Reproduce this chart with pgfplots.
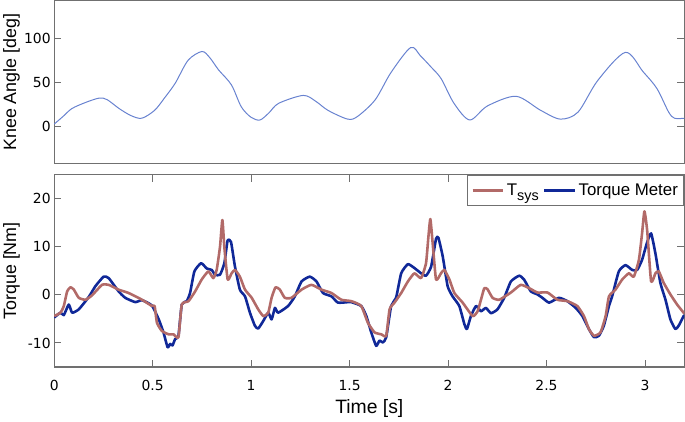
\documentclass[border=0pt]{standalone}
\usepackage{pgfplots}
\pgfplotsset{compat=1.18}
\usepackage{fontspec}
\setmainfont{Liberation Sans}
\newfontfamily\tickfont{DejaVu Sans}
\definecolor{axgray}{RGB}{112,112,112}
\definecolor{tsys}{RGB}{178,106,104}
\definecolor{tmeter}{RGB}{16,40,152}
\definecolor{knee}{RGB}{104,130,208}
\begin{document}
\begin{tikzpicture}
\pgfplotsset{
 common/.style={
  scale only axis, width=633bp, xmin=0, xmax=3.2,
  axis line style={axgray, line width=1.2bp},
  tick style={axgray, line width=1bp},
  major tick length=7bp,
  tick align=inside,
  ticklabel style={font=\tickfont\fontsize{14}{14}\selectfont},
  /pgf/number format/assume math mode=true,
  every axis y label/.style={at={(axis description cs:-0.0675,0.5)}, rotate=90, anchor=center, font=\fontsize{18}{18}\selectfont},
 }
}
\begin{axis}[common, at={(0bp,204bp)}, anchor=south west, height=164bp,
  ymin=-43, ymax=143, ytick={0,50,100}, xtick=\empty,
  ylabel={Knee Angle [deg]}]
\addplot[knee, line width=1bp, smooth, tension=0.5] coordinates {
(0,2.3)(0.045,11)(0.09,20)(0.16,27)(0.23,32)(0.27,30)(0.33,20)(0.39,12)(0.445,9)(0.51,18)(0.56,32)(0.615,49)(0.68,75)(0.75,85)(0.79,78)(0.835,64)(0.90,47)(0.95,22)(1.0,10)(1.045,7)(1.09,15)(1.14,26)(1.265,35)(1.33,28)(1.39,18)(1.49,8)(1.54,11)(1.63,30)(1.71,61)(1.81,89.5)(1.86,80)(1.915,67)(1.965,54)(2.03,26)(2.11,7)(2.2,23)(2.345,34)(2.47,18)(2.57,8)(2.66,16)(2.76,52)(2.90,84)(2.99,62)(3.06,43)(3.12,16)(3.15,9)(3.2,9)
};
\end{axis}
\begin{axis}[common, at={(0bp,0bp)}, anchor=south west, height=193bp,
  ymin=-15, ymax=25, ytick={-10,0,10,20}, xtick={0,0.5,1,1.5,2,2.5,3},
  xticklabel style={yshift=-10bp},
  ylabel={Torque [Nm]},
  xlabel={Time [s]},
  every axis x label/.style={at={(axis description cs:0.5,-0.2176)}, anchor=center, font=\fontsize{19.5}{19.5}\selectfont},
  legend columns=2,
  legend style={at={(rel axis cs:1,1)}, anchor=north east, draw=axgray, line width=1bp,
    font=\fontsize{17}{17}\selectfont, inner xsep=4bp, inner ysep=6.5bp,
    /tikz/every even column/.append style={column sep=2bp}},
  legend image code/.code={\draw[#1] (0bp,0bp) -- (31bp,0bp);},
  ]
\addlegendimage{tsys, line width=3bp}
\addlegendentry{T\raisebox{-0.6ex}{\fontsize{14.5}{14.5}\selectfont sys}}
\addlegendimage{tmeter, line width=3bp}
\addlegendentry{Torque Meter}
\addplot[tmeter, line width=2.6bp, line join=round, smooth, tension=0.3, forget plot] coordinates {
(0,-4.7)(0.032,-3.7)(0.049,-4.2)(0.074,-2)(0.091,-3.7)(0.125,-3)(0.176,-0.4)(0.209,1.8)(0.251,3.8)(0.277,3.5)(0.327,0.75)(0.361,-0.6)(0.412,-1.5)(0.446,-1.1)(0.496,-2.2)(0.53,-5)(0.555,-7.8)(0.576,-10.9)(0.589,-10.2)(0.601,-10.5)(0.614,-9.2)(0.631,-8.5)(0.648,-2)(0.673,-1.3)(0.69,0.4)(0.712,4.9)(0.746,6.6)(0.775,5.5)(0.8,5.2)(0.817,4.2)(0.842,4.2)(0.864,6.6)(0.881,11.4)(0.898,11)(0.918,5.9)(0.943,1.1)(0.969,-0.3)(0.994,-3.7)(1.019,-6.4)(1.036,-7)(1.062,-5.4)(1.087,-3.7)(1.104,-5.1)(1.121,-2.7)(1.137,-3.7)(1.188,-2.3)(1.222,-0.3)(1.256,2.8)(1.298,3.8)(1.332,2.8)(1.365,0.4)(1.408,-0.3)(1.441,-1.6)(1.492,-1.5)
(1.509,-1.5)(1.559,-2.3)(1.585,-4.4)(1.61,-7.8)(1.635,-10.6)(1.652,-9.5)(1.669,-9.9)(1.686,-8.8)(1.711,-2.3)(1.736,-0.6)(1.762,4.5)(1.796,6.4)(1.829,5.6)(1.863,4.5)(1.888,4)(1.914,5.9)(1.939,11.7)(1.951,11.9)(1.973,8)(1.998,1.8)(2.023,-0.3)(2.057,-2.3)(2.083,-6.1)(2.096,-7.1)(2.116,-4.4)(2.142,-2.3)(2.167,-3.4)(2.192,-2.7)(2.218,-3.8)(2.251,-3)(2.285,-0.6)(2.319,2.8)(2.361,4)(2.386,3.2)(2.42,0.75)(2.454,0.1)(2.479,-0.6)(2.513,-1.6)(2.563,-0.6)(2.606,-1.3)(2.648,-2.7)(2.682,-4.4)(2.715,-7.1)(2.741,-8.8)(2.766,-8.5)(2.791,-6.4)(2.817,-2.3)(2.833,-0.3)(2.867,4.9)(2.901,6.2)(2.935,5.2)(2.96,5.2)(2.985,7.3)(3.011,11)(3.031,12.8)(3.053,8.6)(3.078,2.5)(3.104,-1)(3.129,-5.1)(3.154,-7.1)(3.171,-6.4)(3.196,-4.4)(3.2,-4.2)
};
\addplot[tsys, line width=2.6bp, line join=round, smooth, tension=0.3, forget plot] coordinates {
(0,-4.4)(0.032,-3.7)(0.049,-2.3)(0.066,0.75)(0.083,1.6)(0.1,1.1)(0.125,-0.6)(0.159,-1)(0.192,-0.1)(0.243,2.1)(0.277,2.1)(0.327,1.1)(0.378,0.4)(0.446,-1)(0.496,-2.3)(0.51,-2.3)(0.522,-5.8)(0.547,-7.5)(0.581,-8.2)(0.606,-8.2)(0.631,-8.8)(0.648,-2)(0.682,-1.3)(0.716,0.75)(0.749,3.2)(0.783,4.9)(0.808,3.5)(0.825,5.2)(0.842,10)(0.854,15.6)(0.864,10)(0.881,3.2)(0.901,4.5)(0.918,5.2)(0.943,3.8)(0.969,1.1)(1.003,-0.6)(1.036,-3)(1.062,-4.4)(1.087,-3.7)(1.104,-0.6)(1.124,1.6)(1.146,1.1)(1.171,-0.6)(1.205,-0.6)(1.256,1.1)(1.306,2.1)(1.357,1.1)(1.408,0.4)(1.458,-1)
(1.509,-1.3)(1.559,-2.3)(1.593,-5.8)(1.627,-7.8)(1.661,-8.2)(1.686,-8.5)(1.703,-3)(1.728,-1.6)(1.762,0.4)(1.796,2.8)(1.829,4.5)(1.863,3.5)(1.888,6.6)(1.9,12)(1.91,15.8)(1.922,10.7)(1.939,3.2)(1.964,4.5)(1.981,5.2)(2.007,3.2)(2.032,0.4)(2.074,-1.6)(2.125,-4.4)(2.15,-3.4)(2.167,-1)(2.184,1.4)(2.2,1.2)(2.226,-0.6)(2.26,-1)(2.319,0.5)(2.369,2.1)(2.412,1.4)(2.454,0.5)(2.505,0.5)(2.555,-1)(2.606,-1.3)(2.656,-2.3)(2.69,-4.4)(2.715,-7.1)(2.741,-8.5)(2.774,-7.8)(2.8,-4.4)(2.817,-0.3)(2.85,1.1)(2.884,3.2)(2.918,4.5)(2.943,3.8)(2.969,7.3)(2.985,12.8)(2.997,17.4)(3.011,13.4)(3.031,2.8)(3.053,4.5)(3.07,4.9)(3.095,2.5)(3.129,0.1)(3.163,-2)(3.196,-3.7)(3.2,-3.9)
};
\end{axis}
\useasboundingbox (-52bp,-52bp) rectangle (633bp,368bp);
\end{tikzpicture}
\end{document}
